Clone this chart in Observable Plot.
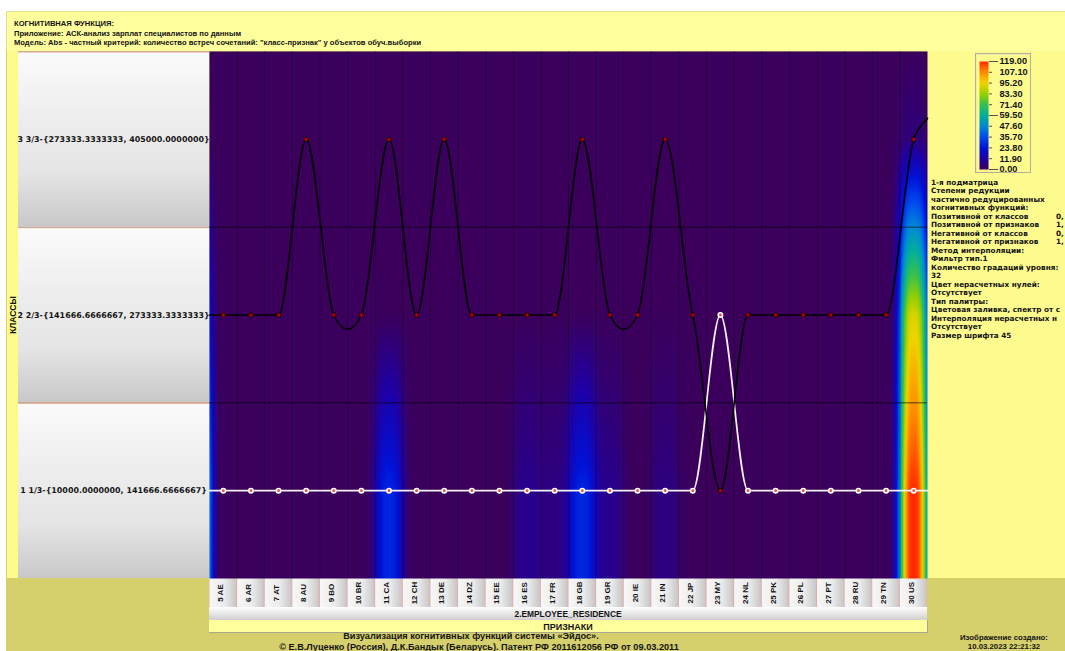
<!DOCTYPE html>
<html><head><meta charset="utf-8">
<script src="https://cdn.jsdelivr.net/npm/d3@7"></script>
<script src="https://cdn.jsdelivr.net/npm/@observablehq/plot@0.6"></script>
<style>
html,body{margin:0;padding:0;background:#fff;}
#page{position:relative;width:1065px;height:651px;overflow:hidden;background:#fff;font-family:"Liberation Sans",Arial,sans-serif;font-weight:bold;color:#141414;}
.box{position:absolute;box-sizing:border-box;}
.t{position:absolute;white-space:nowrap;line-height:1;}
</style></head>
<body><div id="page"></div>
<script>
// ---------------- data ----------------
const features = ["5 AE","6 AR","7 AT","8 AU","9 BO","10 BR","11 CA","12 CH","13 DE","14 DZ","15 EE","16 ES","17 FR","18 GB","19 GR","20 IE","21 IN","22 JP","23 MY","24 NL","25 PK","26 PL","27 PT","28 RU","29 TN","30 US"];
const featureCodes = features.map(f => +f.split(" ")[0]);
const classes = ["1 1/3-{10000.0000000, 141666.6666667}", "2 2/3-{141666.6666667, 273333.3333333}", "3 3/3-{273333.3333333, 405000.0000000}"];
const classCodes = [1, 2, 3];
// class of the black (upper) cognitive function per feature
const blackLineClass = [2,2,2,3,2,2,3,2,3,2,2,2,2,3,2,2,3,2,1,2,2,2,2,2,2,3];
// class of the white (lower) cognitive function per feature
const whiteLineClass = [1,1,1,1,1,1,1,1,1,1,1,1,1,1,1,1,1,1,2,1,1,1,1,1,1,1];
// Abs counts per feature, per class
const heatClass1 = [0,0,0,0,0,0,28,0,0,0,0,8,6,28,8,0,6,0,0,0,0,0,0,0,0,119];
const heatClass2 = [0,0,0,0,0,0,0,0,0,0,0,0,0,0,0,0,0,0,0,0,0,0,0,0,0,92];
const heatClass3 = [0,0,0,0,0,0,0,0,0,0,0,0,0,0,0,0,0,0,0,0,0,0,0,0,0,5];
// column just left of "5 AE", cut off by the frame (classes 1,2,3)
const offChartHeat = [110, 55, 0];
const legendTicks = [0, 11.9, 23.8, 35.7, 47.6, 59.5, 71.4, 83.3, 95.2, 107.1, 119];
const legendColors = ["#3a005c","#1e00a6","#0012d6","#0048f0","#0088d6","#00ae9e","#34c050","#98d000","#f0d400","#ff8a00","#ff2a00"];
const legendLongTicks = [0, 59.5, 119];
const titleLines = ["КОГНИТИВНАЯ ФУНКЦИЯ:", "Приложение: АСК-анализ зарплат специалистов по данным", "Модель: Abs - частный критерий: количество встреч сочетаний: \"класс-признак\" у объектов обуч.выборки"];
const infoLines = [
  ["1-я подматрица"],["Степени редукции"],["частично редуцированных"],["когнитивных функций:"],
  ["Позитивной от классов","0,"],["Позитивной от признаков","1,"],["Негативной от классов","0,"],["Негативной от признаков","1,"],
  ["Метод интерполяции:"],["Фильтр тип.1"],["Количество градаций уровня:"],["32"],
  ["Цвет нерасчетных нулей:"],["Отсутствует"],["Тип палитры:"],["Цветовая заливка, спектр от с"],
  ["Интерполяция нерасчетных н"],["Отсутствует"],["Размер шрифта 45"]
];
const featureGroup = "2.EMPLOYEE_RESIDENCE";
const featureAxisTitle = "ПРИЗНАКИ";
const classAxisTitle = "КЛАССЫ";
const caption1 = "Визуализация когнитивных функций системы «Эйдос».";
const caption2 = "© Е.В.Луценко (Россия), Д.К.Бандык (Беларусь). Патент РФ  2011612056 РФ от 09.03.2011";
const createdLines = ["Изображение создано:", "10.03.2023   22:21:32"];

// ---------------- layout ----------------
const page = document.getElementById("page");
const F = {left: 209, right: 927, top: 51, bottom: 578};
function box(x, y, w, h, css) {
  const d = document.createElement("div"); d.className = "box";
  Object.assign(d.style, {left: x + "px", top: y + "px", width: w + "px", height: h + "px"}, css || {});
  page.appendChild(d); return d;
}
function txt(s, x, yc, size, align, opt) {
  opt = opt || {};
  const d = document.createElement("div"); d.className = "t"; d.textContent = s;
  Object.assign(d.style, {left: x + "px", top: yc + "px", fontSize: size + "px"});
  if (opt.family) d.style.fontFamily = opt.family;
  d.style.transform = (align === "center" ? "translate(-50%,-50%)" : "translate(0,-50%)") + (opt.rot ? " rotate(" + opt.rot + ")" : "");
  page.appendChild(d); return d;
}
box(6, 11, 1059, 640, {background: "#d6d06c"});
box(6, 11, 1059, 40, {background: "#fefe9c", borderTop: "1px solid #e4e08a", borderLeft: "1px solid #e4e08a"});
box(927, 51, 138, 527, {background: "#fdfb8e"});
box(7, 51, 11, 527, {background: "#fdfb8a"});
const bandH = (F.bottom - F.top) / 3;
box(18, F.top, F.left - 18, F.bottom - F.top, {background: `repeating-linear-gradient(180deg, #d8a890 0px, #d8a890 1px, #fbfbfb 2px, #eeeeee ${bandH*0.35}px, #e4e4e4 ${bandH*0.7}px, #c8c8c8 ${bandH}px)`});
const colW = (F.right - F.left) / features.length;
box(F.left, F.bottom, F.right - F.left, 29, {background: `repeating-linear-gradient(90deg, #eaa8a8 0px, #f6f6f6 1px, #ececec ${colW*0.55}px, #c9c9c9 ${colW-1}px, #eaa8a8 ${colW}px)`});
box(F.left, 607, F.right - F.left, 13, {background: "linear-gradient(180deg,#ffffff,#cfcfcf)"});
box(F.left, 620, F.right - F.left + 1, 13, {background: "#fffe9c", borderRight: "1px solid #a8a890", borderBottom: "1px solid #a8a890"});
box(975, 53, 56, 120, {border: "1px solid #b4b098", boxShadow: "inset 1px 1px 0 #eeeab0"});

const dv = "'DejaVu Sans', Verdana, sans-serif";
titleLines.forEach((s, i) => txt(s, 14, [24, 33.5, 43][i], 7.6, "left"));
infoLines.forEach((l, i) => {
  const y = 182.5 + i * 8.5;
  txt(l[0], 931, y, 7.3, "left", {family: dv});
  if (l[1]) txt(l[1], 1056, y, 7.3, "left", {family: dv});
});
txt(classAxisTitle, 12.5, 315, 8.5, "center", {rot: "-90deg"});
txt(featureGroup, (F.left + F.right) / 2, 614, 8.4, "center");
txt(featureAxisTitle, (F.left + F.right) / 2, 626.5, 9, "center");
txt(caption1, 471, 637, 9.2, "center");
txt(caption2, 479, 647.5, 9.2, "center");
txt(createdLines[0], 1004, 637.5, 7.8, "center");
txt(createdLines[1], 1004, 646.5, 7.8, "center");

// ---------------- heat surface sampled from the cell values ----------------
function vert(c1, c2, c3, y) {
  if (y <= 1) return c1;
  if (y <= 2) return c1 + (c2 - c1) * (y - 1);
  if (y <= 3) return c2 + (c3 - c2) * (y - 2);
  return c3 * Math.max(0, 1 - (y - 3) / 0.5);
}
function column(code) {
  if (code === featureCodes[0] - 1) return offChartHeat;
  const i = code - featureCodes[0];
  if (i < 0 || i >= features.length) return null;
  return [heatClass1[i], heatClass2[i], heatClass3[i]];
}
function heat(x, y) {
  let s = 0;
  for (let c = Math.floor(x) - 1; c <= Math.ceil(x) + 1; c++) {
    const col = column(c); if (!col) continue;
    const d = Math.abs(x - c) / 0.53;
    const w = Math.exp(-d * d * d);
    if (w < 1e-4) continue;
    s += w * vert(col[0], col[1], col[2], y);
  }
  return Math.min(s, 119);
}

// cubic Hermite curve (y as function of x): Catmull-Rom slopes with y-tension,
// flat at the edges of plateaus, continued half a column past both ends
function cognitiveCurve(context) {
  const T = 0.35;
  let pts = [];
  return {
    areaStart() {}, areaEnd() {},
    lineStart() { pts = []; },
    point(x, y) { pts.push([+x, +y]); },
    lineEnd() {
      const n = pts.length;
      if (n < 2) { if (n) context.moveTo(pts[0][0], pts[0][1]); return; }
      const a0 = [pts[0][0] - (pts[1][0] - pts[0][0]) / 2, pts[0][1] - (pts[1][1] - pts[0][1]) * 0.12];
      const aN = [pts[n-1][0] + (pts[n-1][0] - pts[n-2][0]) / 2, pts[n-1][1] + (pts[n-1][1] - pts[n-2][1]) * 0.12];
      const Q = [a0, ...pts, aN], L = Q.length;
      const eq = (i, j) => i >= 0 && j >= 0 && i < L && j < L && Math.abs(Q[i][1] - Q[j][1]) < 1e-6;
      const S = Q.map((q, i) => {
        if (i === 0) return (Q[1][1] - Q[0][1]) / (Q[1][0] - Q[0][0]);
        if (i === L - 1) return (Q[i][1] - Q[i-1][1]) / (Q[i][0] - Q[i-1][0]);
        const plateauEdge = (eq(i, i-1) && (eq(i-1, i-2) || i - 1 === 0)) || (eq(i, i+1) && (eq(i+1, i+2) || i + 1 === L - 1));
        if (plateauEdge) return 0;
        return (1 - T) * (Q[i+1][1] - Q[i-1][1]) / (Q[i+1][0] - Q[i-1][0]);
      });
      context.moveTo(Q[0][0], Q[0][1]);
      for (let i = 0; i < L - 1; i++) {
        const h = (Q[i+1][0] - Q[i][0]) / 3;
        context.bezierCurveTo(Q[i][0] + h, Q[i][1] + S[i] * h, Q[i+1][0] - h, Q[i+1][1] - S[i+1] * h, Q[i+1][0], Q[i+1][1]);
      }
    }
  };
}

const rows = features.map((f, i) => ({f, x: featureCodes[i], black: blackLineClass[i], white: whiteLineClass[i]}));
const colorScale = {type: "linear", domain: legendTicks, range: legendColors, clamp: true};
const font = "'Liberation Sans', Arial, sans-serif";

const chart = Plot.plot({
  width: 1065, height: 651,
  marginLeft: F.left, marginRight: 1065 - F.right, marginTop: F.top, marginBottom: 651 - F.bottom,
  x: {domain: [featureCodes[0] - 0.5, featureCodes[featureCodes.length - 1] + 0.5], axis: null},
  y: {domain: [0.5, classCodes.length + 0.5], axis: null},
  color: colorScale,
  style: {background: "transparent", fontFamily: font, overflow: "visible"},
  marks: [
    Plot.raster({x1: featureCodes[0] - 0.5, x2: featureCodes[featureCodes.length - 1] + 0.5, y1: 0.5, y2: classCodes.length + 0.5, fill: heat, pixelSize: 1}),
    Plot.ruleX(featureCodes.slice(1).map(c => c - 0.5), {stroke: "#000", strokeOpacity: 0.28}),
    Plot.ruleY(classCodes.slice(1).map(c => c - 0.5), {stroke: "#000", strokeOpacity: 0.65}),
    Plot.line(rows, {x: "x", y: "white", curve: cognitiveCurve, stroke: "#f2f2f2", strokeWidth: 1.7}),
    Plot.line(rows, {x: "x", y: "black", curve: cognitiveCurve, stroke: "#000", strokeWidth: 1.6}),
    Plot.dot(rows, {x: "x", y: "white", r: 3, fill: "#ffffff"}),
    Plot.dot(rows, {x: "x", y: "white", r: 1.4, fill: "#f04848"}),
    Plot.dot(rows, {x: "x", y: "black", r: 2.2, fill: "#b00000", stroke: "#000", strokeWidth: 0.7}),
    Plot.text(classes, {y: classCodes, frameAnchor: "left", dx: -96, text: d => d, textAnchor: "middle", fontSize: 7.95, fontWeight: "bold", fontFamily: dv, fill: "#141414"}),
    Plot.text(features, {x: featureCodes, frameAnchor: "bottom", dy: 14.5, text: d => d, rotate: -90, fontSize: 8, fontWeight: "bold", fill: "#141414"})
  ]
});
Object.assign(chart.style, {position: "absolute", left: "0px", top: "0px"});
page.appendChild(chart);

// ---------------- colour legend ----------------
const legend = Plot.plot({
  width: 75, height: 132, marginTop: 14, marginBottom: 10, marginLeft: 17, marginRight: 49,
  x: {domain: [0, 1], axis: null},
  y: {domain: [legendTicks[0], legendTicks[legendTicks.length - 1]], axis: null},
  color: colorScale,
  style: {background: "transparent", fontFamily: font, overflow: "visible"},
  marks: [
    Plot.raster({x1: 0, x2: 1, y1: legendTicks[0], y2: legendTicks[legendTicks.length - 1], fill: (x, y) => y, pixelSize: 1}),
    Plot.axisY({anchor: "right", ticks: legendLongTicks, tickSize: 9, tickFormat: () => "", stroke: "#555"}),
    Plot.axisY({anchor: "right", ticks: legendTicks, tickSize: 3, tickPadding: 8, tickFormat: d => d.toFixed(2), fontSize: 9.2, fontWeight: "bold", fill: "#141414", stroke: "#555"})
  ]
});
Object.assign(legend.style, {position: "absolute", left: "962px", top: "47px"});
page.appendChild(legend);
</script></body></html>
